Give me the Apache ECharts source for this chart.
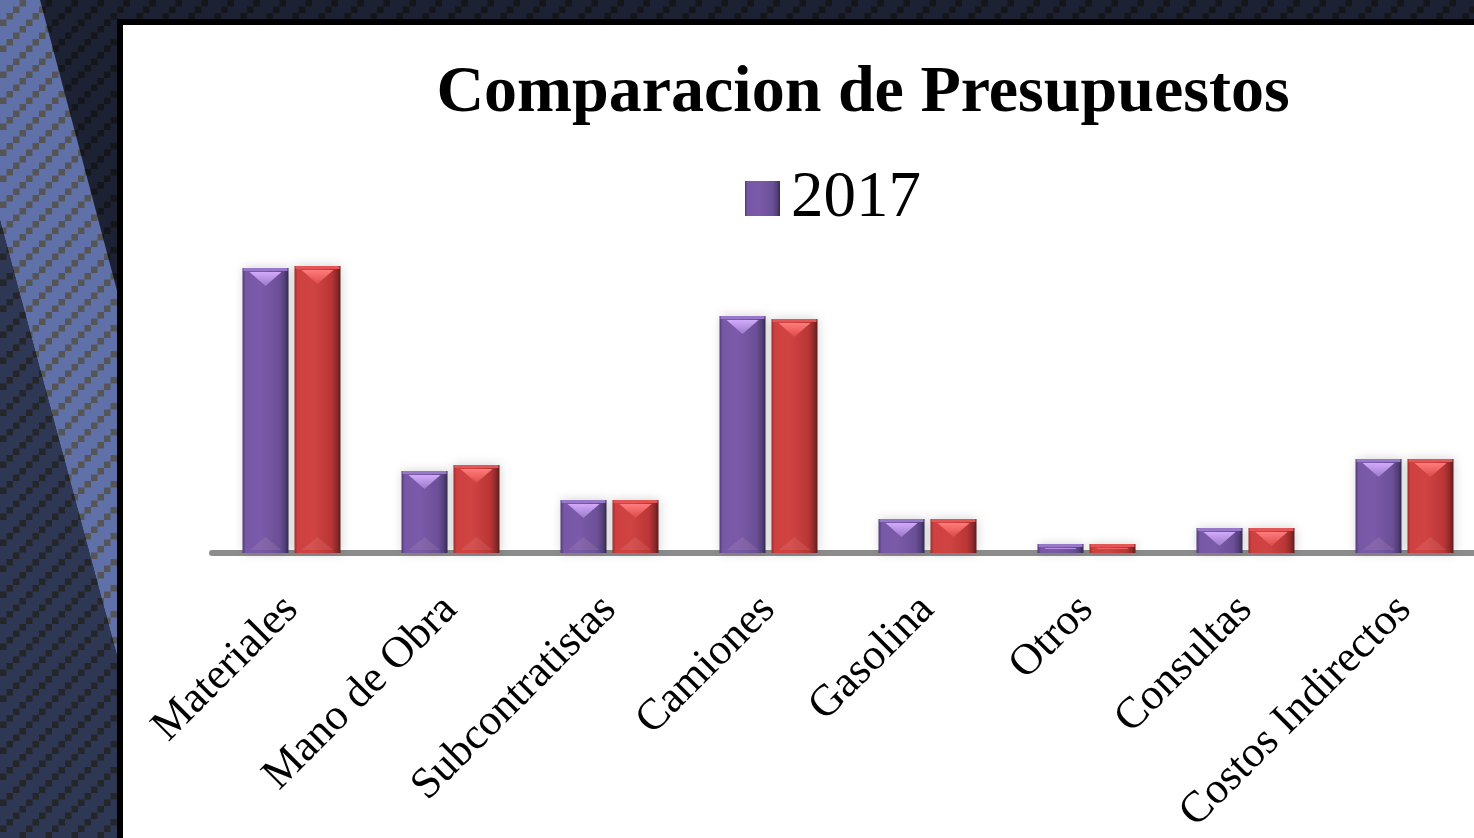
<!DOCTYPE html>
<html>
<head>
<meta charset="utf-8">
<title>Comparacion de Presupuestos</title>
<script src="https://cdn.jsdelivr.net/npm/echarts@6/dist/echarts.min.js"></script>
<style>
  html, body { margin: 0; padding: 0; }
  body { width: 1474px; height: 838px; overflow: hidden; position: relative; background: #1c2133; }
  .bg { position: absolute; left: 0; top: 0; width: 1474px; height: 838px; }
  #panel {
    position: absolute; left: 117px; top: 19px; width: 1400px; height: 860px;
    background: #fff; border-left: 6px solid #000; border-top: 6px solid #000;
  }
  #chart { position: absolute; left: 0; top: 0; width: 1474px; height: 838px; }
</style>
</head>
<body>
<div class="bg" id="bgDark"></div>
<div class="bg" id="bgBand"></div>
<div class="bg" id="bgLow"></div>
<div id="panel"></div>
<div id="chart"></div>
<script>
// datos
const categories = ['Materiales', 'Mano de Obra', 'Subcontratistas', 'Camiones', 'Gasolina', 'Otros', 'Consultas', 'Costos Indirectos'];
const seriesNames = ['2017', '2018'];
const values2017 = [285, 82, 53, 237, 34, 9, 25, 94];
const values2018 = [287, 88, 53, 234, 34, 9, 25, 94];

// fondo con patron de cuadritos
function dots(base, dot) {
  const s = 6.5, p = 26;
  let rects = `<rect width='${p}' height='${p}' fill='${base}'/>`;
  for (let i = 0; i < 4; i++) {
    rects += `<rect x='${i * s}' y='${p - (i + 1) * s}' width='${s}' height='${s}' fill='${dot}'/>`;
  }
  const svg = `<svg xmlns='http://www.w3.org/2000/svg' width='${p}' height='${p}'>${rects}</svg>`;
  return `url("data:image/svg+xml,${encodeURIComponent(svg)}")`;
}
const bgDark = document.getElementById('bgDark');
bgDark.style.backgroundImage = dots('#1c2133', '#15161a');
const bgBand = document.getElementById('bgBand');
bgBand.style.backgroundImage = dots('#6070a9', '#555555');
bgBand.style.clipPath = 'polygon(0 0, 40px 0, 262px 838px, 166px 838px, 0 220px)';
const bgLow = document.getElementById('bgLow');
bgLow.style.backgroundImage = dots('#2e3753', '#25262a');
bgLow.style.clipPath = 'polygon(0 220px, 166px 838px, 0 838px)';

const BAR_W = 46;
const BAR_GAP = 0.13;
const offsets = [-(BAR_W + BAR_W * BAR_GAP) / 2, (BAR_W + BAR_W * BAR_GAP) / 2];

function hGrad(stops) {
  return new echarts.graphic.LinearGradient(0, 0, 1, 0, stops.map(c => ({ offset: c[0], color: c[1] })));
}

const purple = hGrad([[0, '#4f3a75'], [0.07, '#7758a7'], [0.4, '#7a5aa9'], [0.8, '#6b4f97'], [0.92, '#53407a'], [1, '#35294a']]);
const red = hGrad([[0, '#a32b2b'], [0.07, '#cf4141'], [0.4, '#d04343'], [0.8, '#ba3636'], [0.92, '#8e2a2a'], [1, '#5a1c1c']]);

const deco = [
  { cap: '#9878c8', triTop: '#d2aafa', triBot: '#9c7acb' },
  { cap: '#e45656', triTop: '#ff7c7c', triBot: '#de4a4a' }
];

// brillo triangular arriba de cada barra
function makeRender(sIdx) {
  const d = deco[sIdx];
  return function (params, api) {
    const idx = api.value(0);
    const v = api.value(1);
    const top = api.coord([idx, v]);
    const base = api.coord([idx, 0]);
    const cx = top[0] + offsets[sIdx];
    const yTop = top[1];
    const yBot = base[1] - 3;
    const h = yBot - yTop;
    const children = [];
    children.push({
      type: 'rect',
      shape: { x: cx - BAR_W / 2 + 1, y: yTop, width: BAR_W - 2, height: Math.min(3, h) },
      style: { fill: d.cap }
    });
    const tw = 32, th = 14;
    const y0 = yTop + 4;
    if (y0 < yBot - 1) {
      const yEnd = Math.min(y0 + th, yBot - 1);
      const t = (yEnd - y0) / th;
      const hw = tw / 2, hwEnd = hw * (1 - t);
      children.push({
        type: 'polygon',
        shape: { points: [[cx - hw, y0], [cx + hw, y0], [cx + hwEnd, yEnd], [cx - hwEnd, yEnd]] },
        style: {
          fill: new echarts.graphic.LinearGradient(0, 0, 0, 1, [
            { offset: 0, color: d.triTop }, { offset: 1, color: d.triBot }
          ])
        }
      });
    }
    if (h > 45) {
      children.push({
        type: 'polygon',
        shape: { points: [[cx - tw / 2, yBot], [cx + tw / 2, yBot], [cx, yBot - 13]] },
        style: { fill: 'rgba(255,220,200,0.10)' }
      });
    }
    return { type: 'group', children };
  };
}

const chart = echarts.init(document.getElementById('chart'), null, { renderer: 'canvas' });

const option = {
  animation: false,
  backgroundColor: 'transparent',
  title: {
    text: 'Comparacion de Presupuestos',
    left: 858,
    top: 56,
    textAlign: 'center',
    textStyle: { fontFamily: 'Liberation Serif', fontWeight: 'bold', fontSize: 66, color: '#000' }
  },
  legend: {
    data: ['2017'],
    left: 740,
    top: 161,
    icon: 'rect',
    itemWidth: 35,
    itemHeight: 35,
    textStyle: { fontFamily: 'Liberation Serif', fontSize: 65, color: '#000', padding: [0, 0, 0, 6] }
  },
  grid: { left: 212, top: 253, width: 1272, height: 300, outerBoundsMode: 'none', containLabel: false },
  xAxis: {
    type: 'category',
    data: categories,
    axisLine: { lineStyle: { color: '#8c8c8c', width: 6 } },
    axisTick: { show: false },
    axisLabel: {
      rotate: 45,
      margin: 50,
      interval: 0,
      fontFamily: 'Liberation Serif',
      fontSize: 44,
      color: '#000'
    }
  },
  yAxis: { type: 'value', min: 0, max: 300, show: false, splitLine: { show: false } },
  series: [
    {
      name: seriesNames[0],
      type: 'bar',
      data: values2017,
      barWidth: BAR_W,
      barGap: (BAR_GAP * 100) + '%',
      itemStyle: { color: purple, shadowBlur: 10, shadowColor: 'rgba(0,0,0,0.18)', shadowOffsetX: 1 }
    },
    {
      name: seriesNames[1],
      type: 'bar',
      data: values2018,
      barWidth: BAR_W,
      barGap: (BAR_GAP * 100) + '%',
      itemStyle: { color: red, shadowBlur: 10, shadowColor: 'rgba(0,0,0,0.18)', shadowOffsetX: 1 }
    },
    {
      type: 'custom',
      z: 3,
      silent: true,
      renderItem: makeRender(0),
      data: values2017.map((v, i) => [i, v])
    },
    {
      type: 'custom',
      z: 3,
      silent: true,
      renderItem: makeRender(1),
      data: values2018.map((v, i) => [i, v])
    }
  ]
};

chart.setOption(option);
</script>
</body>
</html>
